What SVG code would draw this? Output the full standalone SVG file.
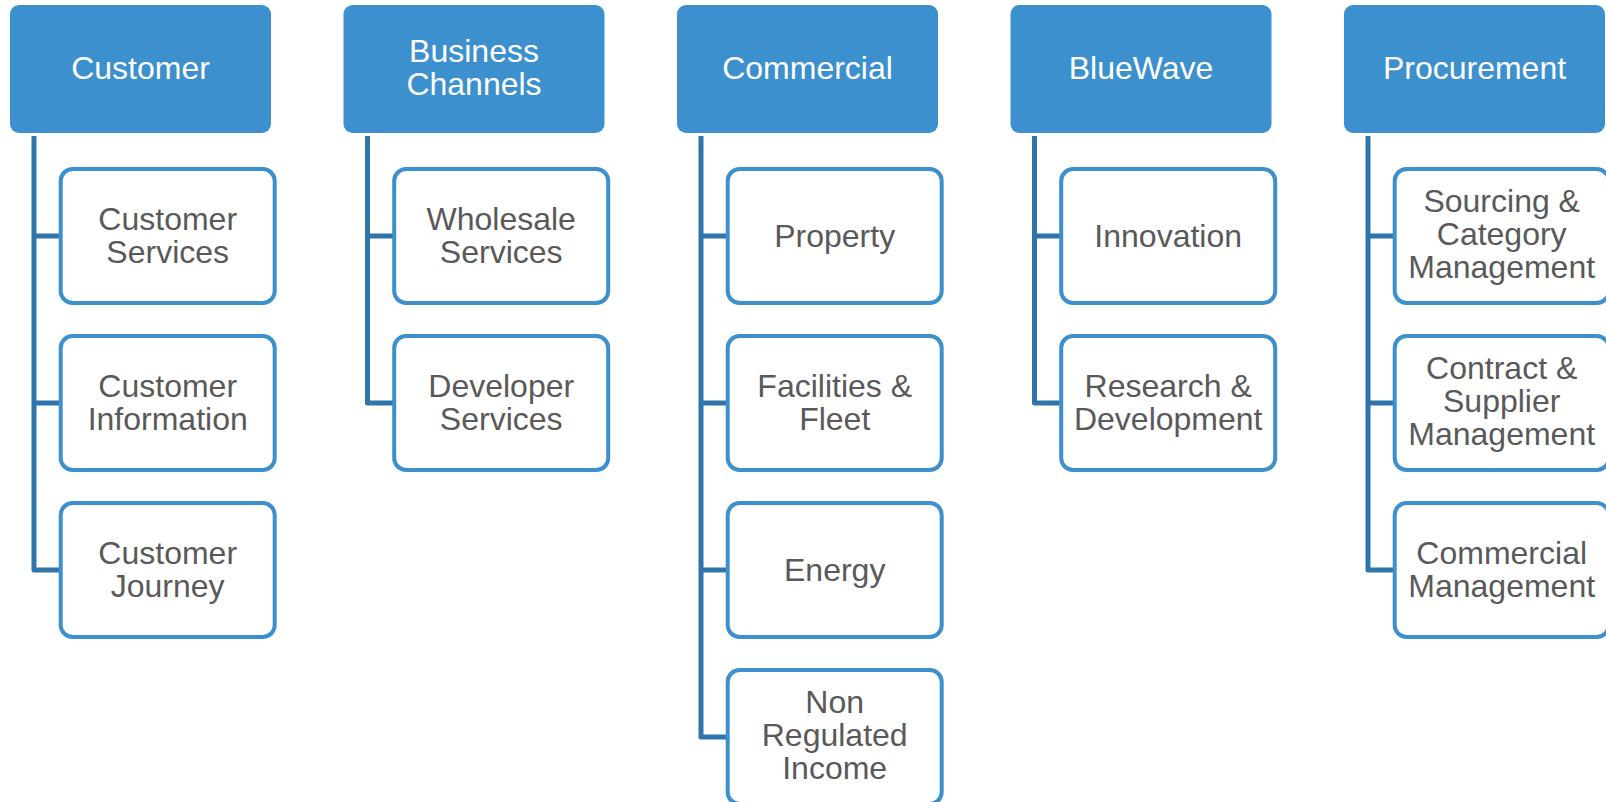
<svg xmlns="http://www.w3.org/2000/svg" width="1606" height="802" viewBox="0 0 1606 802">
<style>
.hdr{fill:#3C90CE}
.child{fill:#ffffff;stroke:#3C90CE;stroke-width:4}
.conn{fill:none;stroke:#2F74AB;stroke-width:5;stroke-linejoin:round;stroke-linecap:butt}
.ht{font-family:"Liberation Sans",Arial,sans-serif;font-size:32px;fill:#ffffff;text-anchor:middle}
.ct{font-family:"Liberation Sans",Arial,sans-serif;font-size:32px;fill:#595959;text-anchor:middle}
</style>
<rect width="1606" height="802" fill="#ffffff"/>
<g id="connectors">
<path class="conn" d="M34,136 V570 H60 M34,236 H60 M34,403 H60"/>
<path class="conn" d="M367.5,136 V403 H394 M367.5,236 H394"/>
<path class="conn" d="M701,136 V737 H727 M701,236 H727 M701,403 H727 M701,570 H727"/>
<path class="conn" d="M1034.5,136 V403 H1061 M1034.5,236 H1061"/>
<path class="conn" d="M1368,136 V570 H1394 M1368,236 H1394 M1368,403 H1394"/>
</g>
<g id="customer">
<rect class="hdr" x="10" y="5" width="261" height="128" rx="9"/>
<text class="ht" x="140.5" y="79">Customer</text>
</g>
<g id="customer-services">
<rect class="child" x="60.7" y="169" width="214" height="134" rx="12"/>
<text class="ct" x="167.7" y="230">Customer</text><text class="ct" x="167.7" y="263">Services</text>
</g>
<g id="customer-information">
<rect class="child" x="60.7" y="336" width="214" height="134" rx="12"/>
<text class="ct" x="167.7" y="397">Customer</text><text class="ct" x="167.7" y="430">Information</text>
</g>
<g id="customer-journey">
<rect class="child" x="60.7" y="503" width="214" height="134" rx="12"/>
<text class="ct" x="167.7" y="564">Customer</text><text class="ct" x="167.7" y="597">Journey</text>
</g>
<g id="business-channels">
<rect class="hdr" x="343.5" y="5" width="261" height="128" rx="9"/>
<text class="ht" x="474" y="62">Business</text><text class="ht" x="474" y="95">Channels</text>
</g>
<g id="wholesale-services">
<rect class="child" x="394.2" y="169" width="214" height="134" rx="12"/>
<text class="ct" x="501.2" y="230">Wholesale</text><text class="ct" x="501.2" y="263">Services</text>
</g>
<g id="developer-services">
<rect class="child" x="394.2" y="336" width="214" height="134" rx="12"/>
<text class="ct" x="501.2" y="397">Developer</text><text class="ct" x="501.2" y="430">Services</text>
</g>
<g id="commercial">
<rect class="hdr" x="677" y="5" width="261" height="128" rx="9"/>
<text class="ht" x="807.5" y="79">Commercial</text>
</g>
<g id="property">
<rect class="child" x="727.7" y="169" width="214" height="134" rx="12"/>
<text class="ct" x="834.7" y="247">Property</text>
</g>
<g id="facilities-fleet">
<rect class="child" x="727.7" y="336" width="214" height="134" rx="12"/>
<text class="ct" x="834.7" y="397">Facilities &amp;</text><text class="ct" x="834.7" y="430">Fleet</text>
</g>
<g id="energy">
<rect class="child" x="727.7" y="503" width="214" height="134" rx="12"/>
<text class="ct" x="834.7" y="581">Energy</text>
</g>
<g id="non-regulated-income">
<rect class="child" x="727.7" y="670" width="214" height="134" rx="12"/>
<text class="ct" x="834.7" y="713">Non</text><text class="ct" x="834.7" y="746">Regulated</text><text class="ct" x="834.7" y="779">Income</text>
</g>
<g id="bluewave">
<rect class="hdr" x="1010.5" y="5" width="261" height="128" rx="9"/>
<text class="ht" x="1141" y="79">BlueWave</text>
</g>
<g id="innovation">
<rect class="child" x="1061.2" y="169" width="214" height="134" rx="12"/>
<text class="ct" x="1168.2" y="247">Innovation</text>
</g>
<g id="research-development">
<rect class="child" x="1061.2" y="336" width="214" height="134" rx="12"/>
<text class="ct" x="1168.2" y="397">Research &amp;</text><text class="ct" x="1168.2" y="430">Development</text>
</g>
<g id="procurement">
<rect class="hdr" x="1344" y="5" width="261" height="128" rx="9"/>
<text class="ht" x="1474.5" y="79">Procurement</text>
</g>
<g id="sourcing-category">
<rect class="child" x="1394.7" y="169" width="214" height="134" rx="12"/>
<text class="ct" x="1501.7" y="212">Sourcing &amp;</text><text class="ct" x="1501.7" y="245">Category</text><text class="ct" x="1501.7" y="278">Management</text>
</g>
<g id="contract-supplier">
<rect class="child" x="1394.7" y="336" width="214" height="134" rx="12"/>
<text class="ct" x="1501.7" y="379">Contract &amp;</text><text class="ct" x="1501.7" y="412">Supplier</text><text class="ct" x="1501.7" y="445">Management</text>
</g>
<g id="commercial-management">
<rect class="child" x="1394.7" y="503" width="214" height="134" rx="12"/>
<text class="ct" x="1501.7" y="564">Commercial</text><text class="ct" x="1501.7" y="597">Management</text>
</g>
</svg>
